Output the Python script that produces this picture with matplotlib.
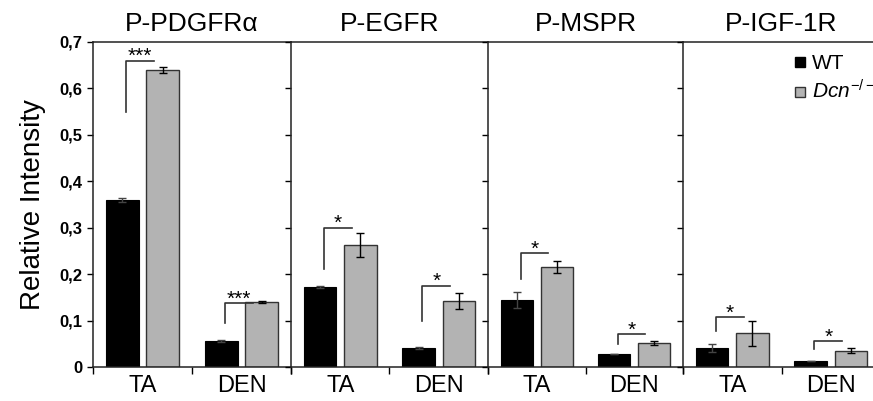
import matplotlib
matplotlib.use("Agg")
import matplotlib.pyplot as plt
from matplotlib.lines import Line2D

plt.rcParams['font.family'] = ['Liberation Sans', 'DejaVu Sans']
plt.rcParams['mathtext.fontset'] = 'custom'
plt.rcParams['mathtext.rm'] = 'Liberation Sans'
plt.rcParams['mathtext.it'] = 'Liberation Sans:italic'

# data
receptors = ['P-PDGFRα', 'P-EGFR', 'P-MSPR', 'P-IGF-1R']
categories = ['TA', 'DEN']
wt_mean = [[0.360, 0.056], [0.173, 0.041], [0.145, 0.028], [0.041, 0.012]]
wt_err = [[0.005, 0.002], [0.002, 0.002], [0.017, 0.000], [0.009, 0.000]]
dcn_mean = [[0.640, 0.140], [0.263, 0.142], [0.215, 0.052], [0.073, 0.035]]
dcn_err = [[0.007, 0.003], [0.026, 0.018], [0.013, 0.005], [0.027, 0.005]]

# significance brackets (bottom of leg, top bar) and labels
bracket_lo = [[0.55, 0.095], [0.21, 0.100], [0.19, 0.050], [0.077, 0.039]]
bracket_hi = [[0.66, 0.138], [0.30, 0.175], [0.245, 0.071], [0.107, 0.056]]
stars = [['***', '***'], ['*', '*'], ['*', '*'], ['*', '*']]
yticks = [0, 0.1, 0.2, 0.3, 0.4, 0.5, 0.6, 0.7]

fig = plt.figure(figsize=(8.73, 4.01), dpi=100)
edges = [0.1065, 0.3333, 0.5590, 0.7824, 1.008]
bottom, height = 0.0848, 0.8105

bw = 0.33
off = 0.205
for k, name in enumerate(receptors):
    ax = fig.add_axes([edges[k], bottom, edges[k + 1] - edges[k], height])
    xs = [i + 0.5 for i in range(len(categories))]
    ax.bar([x - off for x in xs], wt_mean[k], width=bw, color='black',
           edgecolor='black', linewidth=0.8, zorder=2)
    ax.bar([x + off for x in xs], dcn_mean[k], width=bw, color='#b3b3b3',
           edgecolor='#333333', linewidth=1.0, zorder=2)
    ax.errorbar([x - off for x in xs], wt_mean[k], yerr=wt_err[k], fmt='none',
                ecolor='#444444', elinewidth=1.0, capsize=3, capthick=1.0, zorder=3)
    ax.errorbar([x + off for x in xs], dcn_mean[k], yerr=dcn_err[k], fmt='none',
                ecolor='black', elinewidth=1.0, capsize=3, capthick=1.0, zorder=3)

    for i, x in enumerate(xs):
        x0 = x - off + 0.04
        x1 = x + off - 0.09
        lo, hi = bracket_lo[k][i], bracket_hi[k][i]
        ax.plot([x0, x0, x1], [lo, hi, hi], color='#333333', lw=1.2, zorder=4)
        ax.text((x0 + x1) / 2, hi - 0.012, stars[k][i], ha='center', va='bottom',
                fontsize=15)

    ax.set_xlim(0, 2)
    ax.set_ylim(0, 0.7)
    ax.set_xticks([0, 1, 2])
    ax.set_xticklabels([])
    ax.set_xticks(xs, minor=True)
    ax.set_xticklabels(categories, minor=True, fontsize=17)
    ax.tick_params(axis='x', which='major', direction='out', length=5, width=1)
    ax.tick_params(axis='x', which='minor', length=0, pad=6)
    ax.set_yticks(yticks)
    ax.tick_params(axis='y', direction='out', length=4, width=1)
    if k == 0:
        ax.set_yticklabels([('%.1f' % v).replace('.', ',') if v else '0'
                            for v in yticks], fontsize=12, fontweight='bold')
        ax.set_ylabel('Relative Intensity', fontsize=20, labelpad=10)
    else:
        ax.set_yticklabels([])
    ax.spines['right'].set_visible(False)
    for s in ['left', 'top', 'bottom']:
        ax.spines[s].set_linewidth(1.1)
        ax.spines[s].set_color('#222222')
    ax.set_title(name, fontsize=19, pad=8)

    if k == 3:
        handles = [Line2D([], [], ls='none', marker='s', markersize=7,
                          markerfacecolor='black', markeredgecolor='black'),
                   Line2D([], [], ls='none', marker='s', markersize=7,
                          markerfacecolor='#b3b3b3', markeredgecolor='#333333')]
        ax.legend(handles, ['WT', '$\\it{Dcn}^{-/-}$'], loc='upper left',
                  bbox_to_anchor=(0.5, 1.0), frameon=False, fontsize=15,
                  handlelength=0.6, handletextpad=0.25,
                  labelspacing=0.3, borderaxespad=0.2)

fig.savefig('out.png', dpi=100)
